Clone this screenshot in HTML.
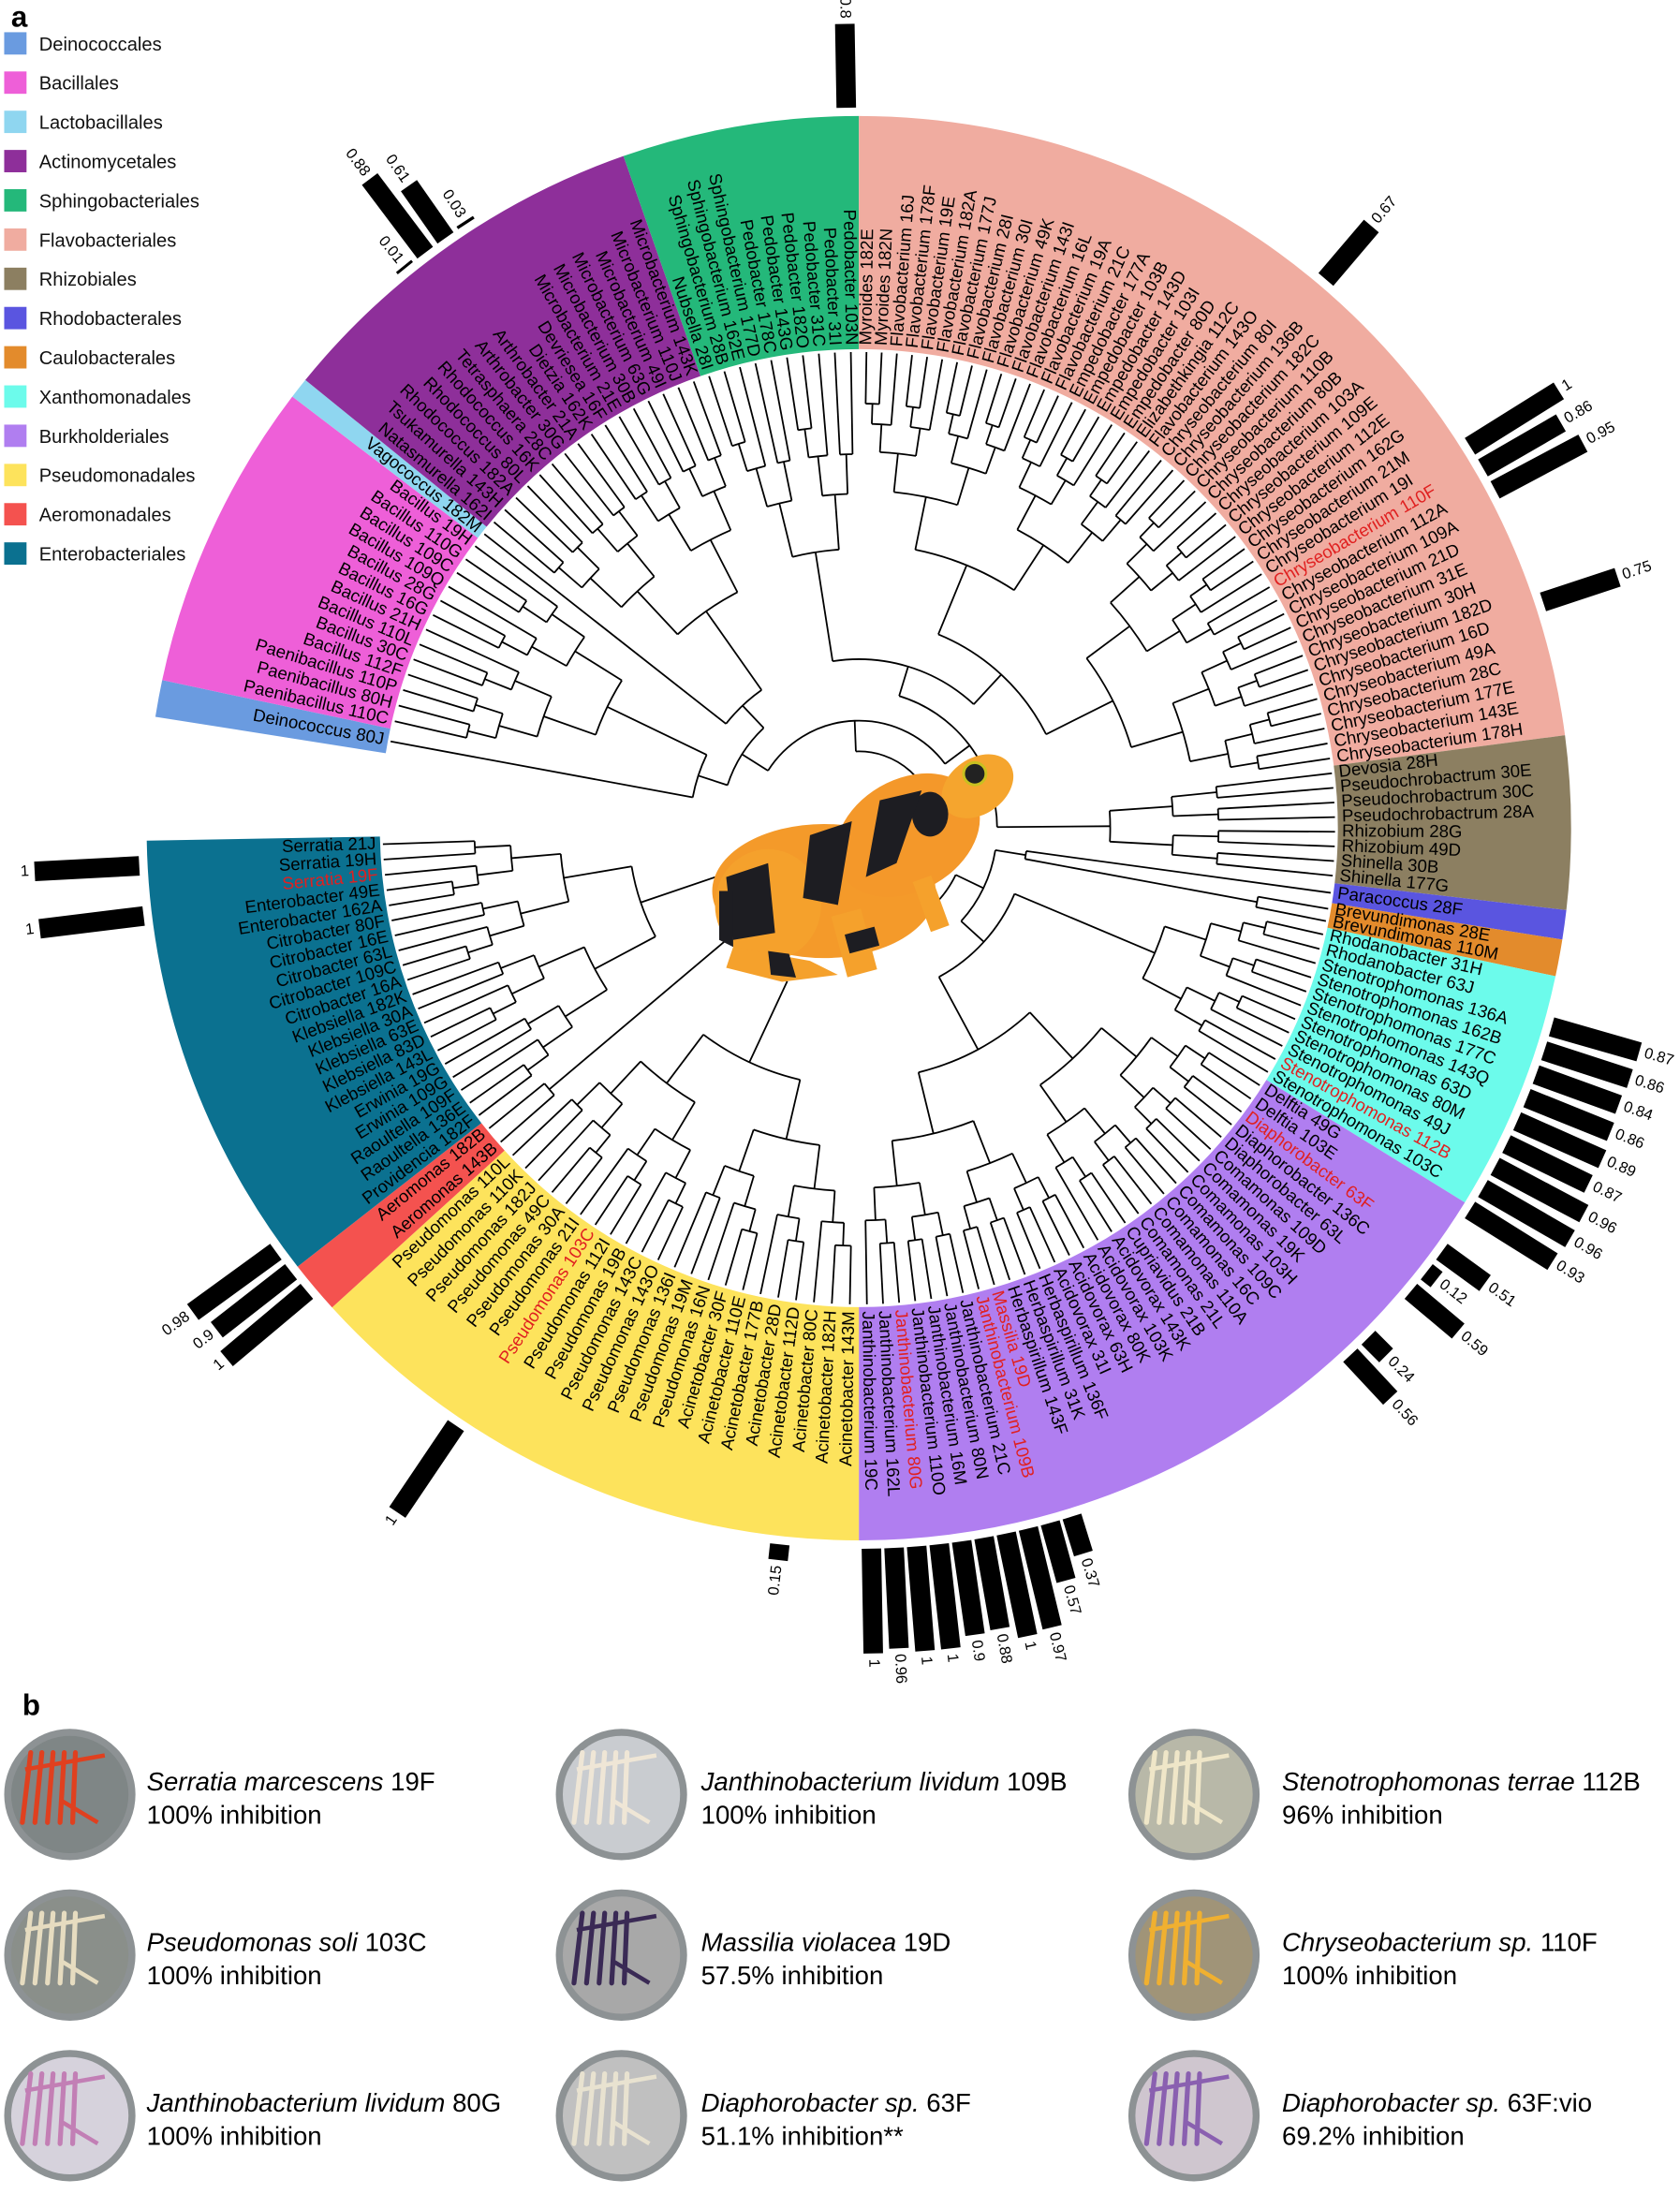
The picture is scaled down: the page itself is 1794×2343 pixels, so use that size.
<!DOCTYPE html>
<html><head><meta charset="utf-8">
<style>
html,body{margin:0;padding:0;background:#fff;}
svg{display:block;font-family:"Liberation Sans",sans-serif;}
</style></head>
<body>
<svg id="fig" xmlns="http://www.w3.org/2000/svg" width="1794" height="2343" viewBox="0 0 1203 1571">
<text x="8" y="19" font-size="21" font-weight="bold">a</text>
<text x="16" y="1228" font-size="21" font-weight="bold">b</text>
<g id="legend"></g>
<g id="sectors"></g>
<g id="tree" stroke="#000" stroke-width="1.2" fill="none"></g>
<g id="labels" font-size="12.5"></g>
<g id="bars"></g>
<g id="frog" transform="translate(620,618)">
  <ellipse cx="-30" cy="20" rx="80" ry="48" fill="#f49a2a"/>
  <ellipse cx="-70" cy="30" rx="38" ry="40" fill="#f5a12c"/>
  <ellipse cx="30" cy="-20" rx="55" ry="40" fill="#f4982a" transform="rotate(-30 30 -20)"/>
  <ellipse cx="80" cy="-55" rx="28" ry="20" fill="#f5a52e" transform="rotate(-35 80 -55)"/>
  <circle cx="78" cy="-64" r="8" fill="#222" stroke="#c8c020" stroke-width="2"/>
  <ellipse cx="46" cy="-35" rx="13" ry="16" fill="#1d1d22"/>
  <path d="M10,-45 L40,-52 L22,0 L0,10 Z" fill="#1d1d22"/>
  <path d="M-40,-20 L-10,-30 L-20,30 L-45,25 Z" fill="#1d1d22"/>
  <path d="M-100,10 L-70,0 L-65,50 L-95,55 Z" fill="#1d1d22"/>
  <rect x="-20" y="35" width="22" height="45" fill="#f5a12c" transform="rotate(-15 -10 55)"/>
  <rect x="-14" y="50" width="22" height="14" fill="#1d1d22" transform="rotate(-15 -10 55)"/>
  <rect x="40" y="10" width="14" height="38" fill="#f5a12c" transform="rotate(-20 47 30)"/>
  <path d="M-95,60 L-40,70 L-20,80 L-60,85 L-100,75 Z" fill="#f5a12c"/>
  <path d="M-70,63 L-55,65 L-50,82 L-68,80 Z" fill="#1d1d22"/>
  <path d="M-105,20 L-95,20 L-95,60 L-105,55 Z" fill="#1d1d22"/>
</g>
<g id="panelb"></g>
</svg>
<script>
// ---------- data ----------
const orderNames = ["Deinococcales","Bacillales","Lactobacillales","Actinomycetales","Sphingobacteriales","Flavobacteriales","Rhizobiales","Rhodobacterales","Caulobacterales","Xanthomonadales","Burkholderiales","Pseudomonadales","Aeromonadales","Enterobacteriales"];
const orderColors = ["#6a9be0","#ee5fd8","#8fd6f0","#8e2f9a","#24b87a","#f0aca0","#8c7f61","#5a55e0","#e38b2c","#6cfbeb","#b07ef0","#fde35c","#f4524f","#0b7190"];
const orderStart = [279,282,307.3,309,340.7,360,442.5,456.6,459,462,481.7,540,587.7,592];
const orderEnd   = [282,307.3,309,340.7,360,442.5,456.6,459,462,481.7,540,587.7,592,629];
const orderLeaves = [
 ["Deinococcus 80J"],
 ["Paenibacillus 110C","Paenibacillus 80H","Paenibacillus 110P","Bacillus 112F","Bacillus 30C","Bacillus 110L","Bacillus 21H","Bacillus 16G","Bacillus 28G","Bacillus 109Q","Bacillus 109C","Bacillus 110G","Bacillus 19H"],
 ["Vagococcus 182M"],
 ["Natasmurella 162I","Tsukamurella 143H","Rhodococcus 182A","Rhodococcus 80L","Rhodococcus 16K","Tetrasphaera 28C","Arthrobacter 30G","Arthrobacter 21A","Dietzia 162K","Devriesea 16F","Microbacterium 21E","Microbacterium 30B","Microbacterium 63G","Microbacterium 49I","Microbacterium 110J","Microbacterium 143K"],
 ["Nubsella 28I","Sphingobacterium 28B","Sphingobacterium 162E","Sphingobacterium 177D","Pedobacter 178C","Pedobacter 143G","Pedobacter 182O","Pedobacter 31C","Pedobacter 31I","Pedobacter 103N"],
 ["Myroides 182E","Myroides 182N","Flavobacterium 16J","Flavobacterium 178F","Flavobacterium 19E","Flavobacterium 182A","Flavobacterium 177J","Flavobacterium 28I","Flavobacterium 30I","Flavobacterium 49K","Flavobacterium 143I","Flavobacterium 16L","Flavobacterium 19A","Flavobacterium 21C","Empedobacter 177A","Empedobacter 103B","Empedobacter 143D","Empedobacter 103I","Empedobacter 80D","Elizabethkingia 112C","Flavobacterium 143O","Chryseobacterium 80I","Chryseobacterium 136B","Chryseobacterium 182C","Chryseobacterium 110B","Chryseobacterium 80B","Chryseobacterium 103A","Chryseobacterium 109E","Chryseobacterium 112E","Chryseobacterium 162G","Chryseobacterium 21M","Chryseobacterium 19I","*Chryseobacterium 110F","Chryseobacterium 112A","Chryseobacterium 109A","Chryseobacterium 21D","Chryseobacterium 31E","Chryseobacterium 30H","Chryseobacterium 182D","Chryseobacterium 16D","Chryseobacterium 49A","Chryseobacterium 28C","Chryseobacterium 177E","Chryseobacterium 143E","Chryseobacterium 178H"],
 ["Devosia 28H","Pseudochrobactrum 30E","Pseudochrobactrum 30C","Pseudochrobactrum 28A","Rhizobium 28G","Rhizobium 49D","Shinella 30B","Shinella 177G"],
 ["Paracoccus 28F"],
 ["Brevundimonas 28E","Brevundimonas 110M"],
 ["Rhodanobacter 31H","Rhodanobacter 63J","Stenotrophomonas 136A","Stenotrophomonas 162B","Stenotrophomonas 177C","Stenotrophomonas 143Q","Stenotrophomonas 63D","Stenotrophomonas 80M","Stenotrophomonas 49J","*Stenotrophomonas 112B","Stenotrophomonas 103C"],
 ["Delftia 49G","Delftia 103E","*Diaphorobacter 63F","Diaphorobacter 136C","Diaphorobacter 63L","Comamonas 109D","Comamonas 19K","Comamonas 103H","Comamonas 109C","Comamonas 16C","Comamonas 110A","Comamonas 21L","Cupriavidus 21B","Acidovorax 143K","Acidovorax 103K","Acidovorax 80K","Acidovorax 63H","Acidovorax 31I","Herbaspirillum 136F","Herbaspirillum 31K","Herbaspirillum 143F","*Massilia 19D","*Janthinobacterium 109B","Janthinobacterium 21C","Janthinobacterium 80N","Janthinobacterium 16M","Janthinobacterium 110O","*Janthinobacterium 80G","Janthinobacterium 162L","Janthinobacterium 19C"],
 ["Acinetobacter 143M","Acinetobacter 182H","Acinetobacter 80C","Acinetobacter 112D","Acinetobacter 28D","Acinetobacter 177B","Acinetobacter 110E","Acinetobacter 30F","Pseudomonas 16N","Pseudomonas 19M","Pseudomonas 136I","Pseudomonas 143O","Pseudomonas 143C","Pseudomonas 19B","Pseudomonas 112I","*Pseudomonas 103C","Pseudomonas 21I","Pseudomonas 30A","Pseudomonas 49C","Pseudomonas 182J","Pseudomonas 110K","Pseudomonas 110L"],
 ["Aeromonas 143B","Aeromonas 182B"],
 ["Providencia 182F","Raoultella 136E","Raoultella 109F","Erwinia 109G","Erwinia 19G","Klebsiella 143L","Klebsiella 83D","Klebsiella 63E","Klebsiella 30A","Klebsiella 182K","Citrobacter 16A","Citrobacter 109C","Citrobacter 63L","Citrobacter 16E","Citrobacter 80F","Enterobacter 162A","Enterobacter 49E","*Serratia 19F","Serratia 19H","Serratia 21J"]
];
const barAngles = [359,321,323,325,327,40.4,58,60,62,71.7,106,108,110,112,114,116,118,120,122,126,128,130,135,137,179,177.2,175.4,173.6,171.8,170,168.2,166.4,164.6,162.8,186.3,214,230,232,234,263,267];
const barValues = [0.8,0.01,0.88,0.61,0.03,0.67,1,0.86,0.95,0.75,0.87,0.86,0.84,0.86,0.89,0.87,0.96,0.96,0.93,0.51,0.12,0.59,0.24,0.56,1,0.96,1,1,0.9,0.88,1,0.97,0.57,0.37,0.15,1,1,0.9,0.98,1,1];

const NS="http://www.w3.org/2000/svg";
const cx=615, cy=593, R0=343, R1=510, leafR=341;
function P(r,a){const t=a*Math.PI/180;return [cx+r*Math.sin(t), cy-r*Math.cos(t)];}
function mk(tag,attrs,parent){const e=document.createElementNS(NS,tag);for(const k in attrs)e.setAttribute(k,attrs[k]);parent.appendChild(e);return e;}

// legend
const lg=document.getElementById('legend');
orderNames.forEach((n,i)=>{
  const y=31+i*28.1;
  const r=mk('rect',{x:3,y:y-8,width:16,height:16,fill:orderColors[i]},lg);
  
  
  const t=mk('text',{x:28,y:y+5,'font-size':13.5,fill:'#111'},lg);
  t.textContent=n;
  
  
});

// sectors
const sg=document.getElementById('sectors');
orderNames.forEach((n,i)=>{
  const a0=orderStart[i], a1=orderEnd[i];
  const [x0,y0]=P(R1,a0),[x1,y1]=P(R1,a1),[x2,y2]=P(R0,a1),[x3,y3]=P(R0,a0);
  const lf=(a1-a0)>180?1:0;
  const p=mk('path',{d:`M${x0},${y0} A${R1},${R1} 0 ${lf} 1 ${x1},${y1} L${x2},${y2} A${R0},${R0} 0 ${lf} 0 ${x3},${y3} Z`,fill:orderColors[i]},sg);
  
  
});

// leaf angles
const sectorLeafAngles=orderLeaves.map((L,i)=>{
  const a0=orderStart[i], a1=orderEnd[i], n=L.length, step=(a1-a0)/n;
  return L.map((_,j)=>a0+step*(j+0.5));
});

// labels
const lb=document.getElementById('labels');
orderLeaves.forEach((L,i)=>{
  L.forEach((name,j)=>{
    let a=sectorLeafAngles[i][j]; const red=name.startsWith('*'); const txt=red?name.slice(1):name;
    const an=((a%360)+360)%360;
    const [x,y]=P(R0+3,a);
    let rot, anchor;
    if(an<180){rot=an-90;anchor='start';}else{rot=an-270;anchor='end';}
    const t=mk('text',{x:x,y:y,transform:`rotate(${rot} ${x} ${y})`,'text-anchor':anchor,'dominant-baseline':'middle',fill:red?'#e02020':'#000'},lb);
    t.textContent=txt;
    
    
  });
});

// tree
const tg=document.getElementById('tree');
function line(r1,r2,a){const [x1,y1]=P(r1,a),[x2,y2]=P(r2,a);const l=mk('path',{d:`M${x1},${y1} L${x2},${y2}`},tg);}
function arc(r,a0,a1){if(a1-a0<0.01)return;const [x0,y0]=P(r,a0),[x1,y1]=P(r,a1);const l=mk('path',{d:`M${x0},${y0} A${r},${r} 0 ${(a1-a0)>180?1:0} 1 ${x1},${y1}`},tg);}
function buildLeaves(angles,r){
  if(angles.length===1)return angles[0];
  const m=Math.ceil(angles.length/2);
  const parts=[angles.slice(0,m),angles.slice(m)];
  const res=parts.map(p=>{
    if(p.length===1){line(r,leafR,p[0]);return p[0];}
    const cr=r+(leafR-r)*0.28;
    const a=buildLeaves(p,cr);line(r,cr,a);return a;
  });
  arc(r,res[0],res[1]);
  return (res[0]+res[1])/2;
}
const rootR=[300,200,300,190,200,150,180,300,290,230,180,185,290,165];
function buildGroup(idx,r){
  if(idx.length===1){
    const i=idx[0];const A=sectorLeafAngles[i];
    if(A.length===1){line(r,leafR,A[0]);return A[0];}
    const a=buildLeaves(A,rootR[i]);line(r,rootR[i],a);return a;
  }
  const m=Math.ceil(idx.length/2);
  const res=[idx.slice(0,m),idx.slice(m)].map(p=>{
    if(p.length===1)return buildGroup(p,r);
    const cr=r+22;const a=buildGroup(p,cr);line(r,cr,a);return a;
  });
  arc(r,res[0],res[1]);
  return (res[0]+res[1])/2;
}
buildGroup([0,1,2,3,4,5,6,7,8,9,10,11,12,13],55);

// bars
const bg=document.getElementById('bars');
barValues.forEach((v,i)=>{
  const a=barAngles[i], r0=516, len=Math.max(2,75*v);
  const [x,y]=P(r0,a);
  const rot=a-90;
  const b=mk('rect',{x:x,y:y-7,width:len,height:14,fill:'#000',transform:`rotate(${rot} ${x} ${y})`},bg);
  
  
  const [tx,ty]=P(r0+len+4,a);
  const an=((a%360)+360)%360;
  const tr=an<180?an-90:an-270;
  const t=mk('text',{x:tx,y:ty,'font-size':11,'text-anchor':an<180?'start':'end','dominant-baseline':'middle',transform:`rotate(${tr} ${tx} ${ty})`},bg);
  t.textContent=String(v);
  
  
});

// panel b
const pb=document.getElementById('panelb');
const plateSpecies=["Serratia marcescens","Janthinobacterium lividum","Stenotrophomonas terrae","Pseudomonas soli","Massilia violacea","Chryseobacterium sp. ","Janthinobacterium lividum","Diaphorobacter sp.","Diaphorobacter sp."];
const plateIds=[" 19F"," 109B"," 112B"," 103C"," 19D"," 110F"," 80G"," 63F"," 63F:vio"];
const plateInhib=["100% inhibition","100% inhibition","96% inhibition","100% inhibition","57.5% inhibition","100% inhibition","100% inhibition","51.1% inhibition","69.2% inhibition"];
const plateBg=["#7f8686","#c9ccd0","#b8b8a8","#8a8f8a","#a8a8a8","#a09478","#d6d2dc","#c0c0c0","#cfc6cf"];
const streak=["#e0401f","#efe6d6","#efe6c8","#e6dcc0","#3a2a55","#f0b030","#c27fb5","#e8e2d0","#8a60b0"];
const colX=[50,445,855], textX=[105,502,918], rowY=[1285,1400,1515];
for(let k=0;k<9;k++){
  const c=k%3,r=Math.floor(k/3);
  const px=colX[c],py=rowY[r];
  const g=mk('g',{},pb);
  
  
  mk('circle',{cx:px,cy:py,r:47,fill:'#8d9294'},g);
  mk('circle',{cx:px,cy:py,r:42,fill:plateBg[k]},g);
  for(let s=0;s<5;s++){
    mk('line',{x1:px-28+s*8,y1:py-30,x2:px-34+s*9,y2:py+20,stroke:streak[k],'stroke-width':3.5,'stroke-linecap':'round'},g);
  }
  mk('line',{x1:px-32,y1:py-18,x2:px+25,y2:py-28,stroke:streak[k],'stroke-width':3},g);
  mk('line',{x1:px-5,y1:py+5,x2:px+20,y2:py+20,stroke:streak[k],'stroke-width':3},g);
  const t1=mk('text',{x:textX[c],y:py-3,'font-size':18.5},pb);
  
  
  const it=mk('tspan',{'font-style':'italic'},t1);it.textContent=plateSpecies[k];
  const nt=mk('tspan',{},t1);nt.textContent=plateIds[k];
  const t2=mk('text',{x:textX[c],y:py+21,'font-size':18.5},pb);
  t2.textContent=plateInhib[k]+(k===7?'**':'');
  
  
}
</script>
</body></html>
